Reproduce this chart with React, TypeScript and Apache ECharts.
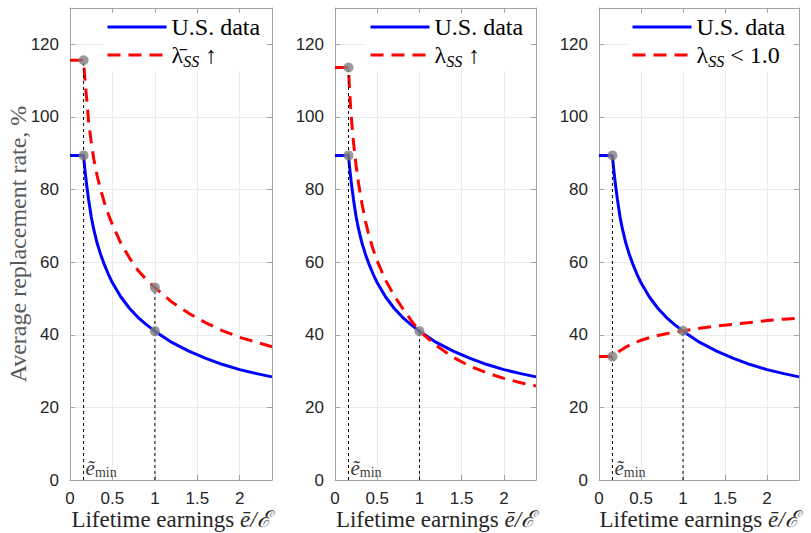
import React, { useEffect, useRef } from "react";
import * as echarts from "echarts";

// ---------- data ----------
const E_MIN = 0.16;
const X_MAX = 2.38;
const Y_MAX = 130;

const xs = [0, 0.16, 0.17, 0.18, 0.19, 0.2, 0.22, 0.25, 0.28, 0.32, 0.36, 0.4, 0.45, 0.5, 0.6, 0.7, 0.8, 0.9, 1.0, 1.2, 1.4, 1.6, 1.8, 2.0, 2.2, 2.38];

const usData = [89.4, 89.4, 86.8, 84.6, 82.5, 80.6, 77.1, 72.5, 69.0, 65.2, 62.2, 59.6, 56.8, 54.3, 50.4, 47.3, 44.8, 42.8, 41.0, 37.9, 35.5, 33.5, 31.8, 30.4, 29.3, 28.4];

const lambdaBarUp = [115.6, 115.6, 112.2, 109.3, 106.6, 104.2, 98.5, 93.0, 88.5, 83.8, 80.0, 76.8, 73.3, 70.3, 65.2, 61.2, 57.8, 55.2, 53.0, 49.0, 45.9, 43.3, 41.1, 39.3, 37.9, 36.7];

const lambdaUp = [113.6, 113.6, 108.5, 104.5, 101.0, 98.0, 92.8, 86.5, 81.5, 76.0, 71.3, 67.5, 63.6, 60.3, 55.0, 50.8, 47.3, 44.0, 41.0, 37.0, 33.8, 31.3, 29.5, 28.0, 26.8, 25.9];

const lambdaBelow = [34.0, 34.0, 34.2, 34.4, 34.6, 34.8, 35.1, 35.6, 36.0, 36.6, 37.1, 37.5, 38.0, 38.5, 39.2, 39.8, 40.3, 40.7, 41.1, 41.8, 42.4, 42.9, 43.4, 43.9, 44.3, 44.6];

const redSeries = [lambdaBarUp, lambdaUp, lambdaBelow];
const redNames = ["λ̄SS ↑", "λSS ↑", "λSS < 1.0"];
const redLegendRich = [
  "{m|λ̄}{s|SS}{m| ↑}",
  "{m|λ}{s|SS}{m| ↑}",
  "{m|λ}{s|SS}{m| < 1.0}",
];
const usName = "U.S. data";

// highlighted points per panel: [x, y]
const dots = [
  [[E_MIN, 115.6], [E_MIN, 89.4], [1, 53.0], [1, 41.0]],
  [[E_MIN, 113.6], [E_MIN, 89.4], [1, 41.0]],
  [[E_MIN, 89.4], [E_MIN, 34.0], [1, 41.1]],
];
// top of vertical dashed guide lines per panel: [at e_min, at 1]
const guideTops = [
  [115.6, 53.0],
  [113.6, 41.0],
  [89.4, 41.0],
];

const xTickInterval = 0.5;
const yTickInterval = 20;

// ---------- layout ----------
const gridLefts = [70, 335, 599];
const gridWidths = [202, 201, 200];
const gridTop = 8;
const gridHeight = 472;
const legendLefts = [103, 366, 628];

const SERIF = "'Liberation Serif', 'DejaVu Serif', serif";
const SANS = "'Liberation Sans', Arial, sans-serif";
const AXIS_GRAY = "#a3a3a3";

export default function App() {
  const ref = useRef<HTMLDivElement>(null);

  useEffect(() => {
    document.body.style.margin = "0";
    if (!ref.current) return;
    const chart = echarts.init(ref.current, undefined, { renderer: "svg" });

    const grid: any[] = [];
    const xAxis: any[] = [];
    const yAxis: any[] = [];
    const series: any[] = [];
    const legend: any[] = [];

    for (let i = 0; i < 3; i++) {
      grid.push({
        left: gridLefts[i],
        top: gridTop,
        width: gridWidths[i],
        height: gridHeight,
        containLabel: false,
        outerBoundsMode: "none",
      });

      xAxis.push({
        type: "value",
        gridIndex: i,
        min: 0,
        max: X_MAX,
        interval: xTickInterval,
        position: "bottom",
        axisLine: { show: true, onZero: false, lineStyle: { color: AXIS_GRAY, width: 1 } },
        axisTick: { show: true, inside: true, length: 5, lineStyle: { color: AXIS_GRAY } },
        axisLabel: { showMaxLabel: false, color: "#262626", fontSize: 17, fontFamily: SANS, margin: 10 },
        splitLine: { show: true, lineStyle: { color: "#ebebeb", width: 1 } },
        name: "{r|Lifetime earnings }{i|ē/ℰ}",
        nameLocation: "middle",
        nameGap: 26,
        nameMoveOverlap: false,
        nameTextStyle: {
          color: "#262626",
          fontFamily: SERIF,
          fontSize: 23,
          rich: {
            r: { fontFamily: SERIF, fontSize: 23, color: "#262626", lineHeight: 26 },
            i: { fontFamily: SERIF, fontSize: 23, fontStyle: "italic", color: "#262626", lineHeight: 26 },
          },
        },
      });
      xAxis.push({
        type: "value",
        gridIndex: i,
        min: 0,
        max: X_MAX,
        interval: xTickInterval,
        position: "top",
        axisLine: { show: true, onZero: false, lineStyle: { color: AXIS_GRAY, width: 1 } },
        axisTick: { show: true, inside: true, length: 5, lineStyle: { color: AXIS_GRAY } },
        axisLabel: { show: false },
        splitLine: { show: false },
      });

      yAxis.push({
        type: "value",
        gridIndex: i,
        min: 0,
        max: Y_MAX,
        interval: yTickInterval,
        position: "left",
        axisLine: { show: true, onZero: false, lineStyle: { color: AXIS_GRAY, width: 1 } },
        axisTick: { show: true, inside: true, length: 5, lineStyle: { color: AXIS_GRAY } },
        axisLabel: { showMaxLabel: false, color: "#262626", fontSize: 17, fontFamily: SANS, margin: 11 },
        splitLine: { show: true, lineStyle: { color: "#ebebeb", width: 1 } },
        ...(i === 0
          ? {
              name: "Average replacement rate, %",
              nameLocation: "middle",
              nameGap: 40,
              nameMoveOverlap: false,
              nameTextStyle: { color: "#595959", fontFamily: SERIF, fontSize: 24 },
            }
          : {}),
      });
      yAxis.push({
        type: "value",
        gridIndex: i,
        min: 0,
        max: Y_MAX,
        interval: yTickInterval,
        position: "right",
        axisLine: { show: true, onZero: false, lineStyle: { color: AXIS_GRAY, width: 1 } },
        axisTick: { show: true, inside: true, length: 5, lineStyle: { color: AXIS_GRAY } },
        axisLabel: { show: false },
        splitLine: { show: false },
      });

      const xi = 2 * i;
      const yi = 2 * i;

      series.push({
        type: "line",
        name: usName,
        xAxisIndex: xi,
        yAxisIndex: yi,
        data: xs.map((x, j) => [x, usData[j]]),
        symbol: "none",
        color: "#0000ff",
        lineStyle: { color: "#0000ff", width: 3 },
        z: 2,
      });
      series.push({
        type: "line",
        name: redNames[i],
        xAxisIndex: xi,
        yAxisIndex: yi,
        data: xs.map((x, j) => [x, redSeries[i][j]]),
        symbol: "none",
        color: "#ff0000",
        lineStyle: { color: "#ff0000", width: 3, type: [13, 8] },
        z: 3,
      });
      [E_MIN, 1].forEach((gx, k) => {
        series.push({
          type: "line",
          xAxisIndex: xi,
          yAxisIndex: yi,
          data: [[gx, 0], [gx, guideTops[i][k]]],
          symbol: "none",
          silent: true,
          lineStyle: { color: "#000", width: 1, type: [3, 3] },
          z: 4,
        });
      });
      series.push({
        type: "scatter",
        xAxisIndex: xi,
        yAxisIndex: yi,
        data: dots[i],
        symbol: "circle",
        symbolSize: 10,
        itemStyle: { color: "#808080" },
        silent: true,
        z: 5,
      });
      series.push({
        type: "scatter",
        xAxisIndex: xi,
        yAxisIndex: yi,
        data: [[E_MIN, 0]],
        symbolSize: 0,
        silent: true,
        z: 6,
        label: {
          show: true,
          position: [2, -23],
          formatter: "{e|ẽ}{s|min}",
          rich: {
            e: { fontFamily: SERIF, fontSize: 21, fontStyle: "italic", color: "#000", lineHeight: 22, verticalAlign: "top" },
            s: { fontFamily: SERIF, fontSize: 14, color: "#000", lineHeight: 12, verticalAlign: "bottom" },
          },
        },
      });

      legend.push({
        data: [usName, redNames[i]],
        orient: "vertical",
        left: legendLefts[i],
        top: 13,
        itemWidth: 59,
        itemHeight: 14,
        itemGap: 4,
        backgroundColor: "#ffffff",
        padding: [2, 6, 2, 3],
        selectedMode: false,
        itemStyle: { opacity: 0 },
        lineStyle: { width: 3 },
        formatter: (name: string) => (name === usName ? "{m|U.S. data}" : redLegendRich[i]),
        textStyle: {
          fontFamily: SERIF,
          fontSize: 24,
          color: "#000",
          rich: {
            m: { fontFamily: SERIF, fontSize: 24, color: "#000", lineHeight: 28, verticalAlign: "middle" },
            s: { fontFamily: SERIF, fontSize: 16, fontStyle: "italic", color: "#000", lineHeight: 18, verticalAlign: "bottom" },
          },
        },
      });
    }

    chart.setOption({
      animation: false,
      backgroundColor: "#ffffff",
      grid,
      xAxis,
      yAxis,
      legend,
      series,
    });

    return () => chart.dispose();
  }, []);

  return (
    <div
      ref={ref}
      style={{ position: "fixed", left: 0, top: 0, width: 811, height: 533 }}
    />
  );
}
